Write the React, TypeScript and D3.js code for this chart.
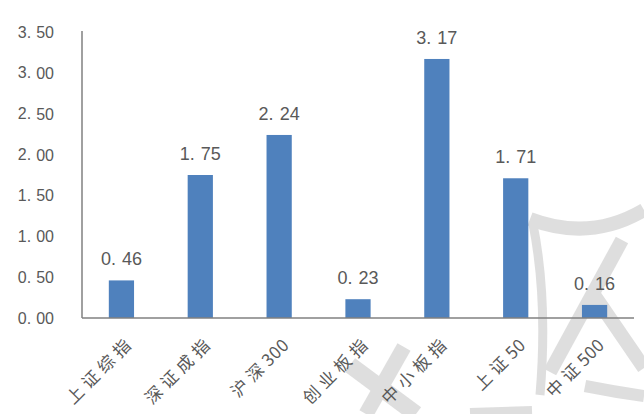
import React from "react";
import * as d3 from "d3";

const categories = ["上证综指", "深证成指", "沪深300", "创业板指", "中小板指", "上证50", "中证500"];
const values = [0.46, 1.75, 2.24, 0.23, 3.17, 1.71, 0.16];
const yTicks = [0, 0.5, 1, 1.5, 2, 2.5, 3, 3.5];

const W = 644;
const H = 414;
const left = 82;
const right = 634;
const top = 32;
const bottom = 318;

// decorative watermark strokes (background)
const watermark = [
  { d: "M530,219 Q590,242 644,210", w: 14 },
  { d: "M533,224 Q548,300 540,395", w: 9 },
  { d: "M622,240 L550,372", w: 14 },
  { d: "M592,292 L644,368", w: 14 },
  { d: "M585,386 Q615,392 644,396", w: 12 },
  { d: "M350,365 L416,414", w: 17 },
  { d: "M404,347 L366,414", w: 15 },
  { d: "M470,412 L532,410", w: 8 },
];

const isCJK = (ch: string) => /[\u3400-\u9fff]/.test(ch);

function Num({ v, x, y, size, anchor, gap }: { v: number; x: number; y: number; size: number; anchor: string; gap: number }) {
  const s = d3.format(".2f")(v);
  const [a, b] = s.split(".");
  return (
    <text x={x} y={y} fontSize={size} textAnchor={anchor as any} dominantBaseline="central" fill="#595959"
      fontFamily="'Liberation Sans', Arial, sans-serif">
      {a + "."}
      <tspan dx={gap}>{b}</tspan>
    </text>
  );
}

export default function App() {
  const x = d3.scaleBand<string>().domain(categories).range([left, right]).paddingInner(0.68).paddingOuter(0.34);
  const y = d3.scaleLinear().domain([0, 3.5]).range([bottom, top]);

  return (
    <svg width={W} height={H} style={{ position: "absolute", left: 0, top: 0, background: "#fff" }}>
      <rect x={0} y={0} width={W} height={H} fill="#fff" />
      <g opacity={0.85}>
        {watermark.map((m, i) => (
          <path key={i} d={m.d} fill="none" stroke="#d9d9d9" strokeWidth={m.w} />
        ))}
      </g>
      {yTicks.map((t) => (
        <Num key={t} v={t} x={54} y={y(t)} size={16} anchor="end" gap={5} />
      ))}
      {categories.map((c, i) => {
        const bx = x(c)!;
        const bw = x.bandwidth();
        const chars = Array.from(c);
        return (
          <g key={c}>
            <rect x={bx} y={y(values[i])} width={bw} height={bottom - y(values[i])} fill="#4f81bd" />
            <Num v={values[i]} x={bx + bw / 2} y={y(values[i]) - 21} size={18} anchor="middle" gap={6} />
            <text
              transform={`translate(${bx + bw / 2 + 5},${341}) rotate(-45)`}
              textAnchor="end"
              dominantBaseline="central"
              fontSize={17}
              fill="#595959"
              fontFamily="'Noto Sans CJK SC', 'Noto Sans', sans-serif"
            >
              {chars.map((ch, k) => (
                <tspan key={k} dx={k === 0 ? 0 : isCJK(chars[k - 1]) ? 5 : 0.5}>{ch}</tspan>
              ))}
            </text>
          </g>
        );
      })}
      <line x1={left} x2={left} y1={top - 1} y2={bottom} stroke="#808080" strokeWidth={1.5} />
      <line x1={left} x2={right} y1={bottom} y2={bottom} stroke="#808080" strokeWidth={1.5} />
    </svg>
  );
}
